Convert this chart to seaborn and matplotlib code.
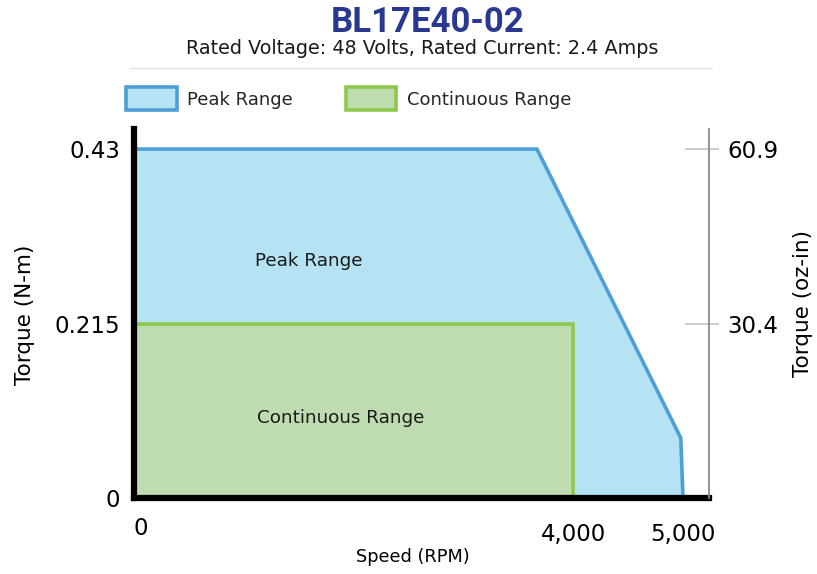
import seaborn as sns
import matplotlib.pyplot as plt
from matplotlib.lines import Line2D
from matplotlib.transforms import ScaledTranslation

# speed (RPM) / torque (N-m) corner points
peak_speed = [0, 0, 3670, 4980, 5000]
peak_torque = [0, 0.43, 0.43, 0.074, 0]
cont_speed = [0, 0, 4000, 4000]
cont_torque = [0, 0.215, 0.215, 0]

speed_ticks = [0, 4000, 5000]
speed_labels = ['0', '4,000', '5,000']
torque_ticks = [0, 0.215, 0.43]
torque_labels = ['0', '0.215', '0.43']
ozin_ticks = [30.4, 60.9]
NM_TO_OZIN = 141.612

sns.set_theme(style='white')
plt.rcParams['font.family'] = ['DejaVu Sans']

fig = plt.figure(figsize=(8.17, 5.74), dpi=100)
ax = fig.add_axes([134 / 817, 76 / 574, 575 / 817, 369 / 574])

peak_fill = '#b5e3f4'
peak_edge = '#4d9fd6'
cont_fill = '#bfdcb1'
cont_edge = '#8dc84c'

ax.fill(peak_speed, peak_torque, facecolor=peak_fill, edgecolor=peak_edge,
        linewidth=2.6, label='Peak Range', zorder=1)
ax.fill(cont_speed, cont_torque, facecolor=cont_fill, edgecolor=cont_edge,
        linewidth=2.6, label='Continuous Range', zorder=1.2)

ax.set_xlim(0, 5237)
ax.set_ylim(0, 0.4547)

ax.text(1590, 0.292, 'Peak Range', ha='center', va='center', fontsize=13.2, color='#1a1a1a')
ax.text(1880, 0.099, 'Continuous Range', ha='center', va='center', fontsize=13.2, color='#1a1a1a')

sns.despine(ax=ax, top=True, right=True)
for side in ['left', 'bottom']:
    ax.spines[side].set_color('black')
    ax.spines[side].set_linewidth(4.5)
    ax.spines[side].set_zorder(3)

ax.set_xticks(speed_ticks)
ax.set_xticklabels(speed_labels)
ax.set_yticks(torque_ticks)
ax.set_yticklabels(torque_labels)
ax.tick_params(axis='x', length=0, pad=18, labelsize=16.5, labelcolor='black')
ax.tick_params(axis='y', length=0, pad=10, labelsize=16.5, labelcolor='black')
zero_lab = ax.get_xticklabels()[0]
zero_lab.set_transform(zero_lab.get_transform() + ScaledTranslation(0.07, 0.06, fig.dpi_scale_trans))

ax.set_xlabel('Speed (RPM)', fontsize=12.8, color='black')
ax.xaxis.set_label_coords((413 - 134) / 575, -0.135)
ax.set_ylabel('Torque (N-m)', fontsize=15.5, color='black')
ax.yaxis.set_label_coords(-0.172, 0.496)

# right axis in oz-in: long tick inside, short stub outside
ax2 = ax.twinx()
ax2.set_ylim(0, 0.4547 * NM_TO_OZIN)
for side in ['left', 'top', 'bottom']:
    ax2.spines[side].set_visible(False)
ax2.spines['right'].set_color('#8a8a8a')
ax2.spines['right'].set_linewidth(1.3)
ax2.set_yticks(ozin_ticks)
ax2.set_yticklabels([f'{v:.1f}' for v in ozin_ticks])
ax2.set_yticks(ozin_ticks, minor=True)
ax2.yaxis.remove_overlapping_locs = False
ax2.tick_params(axis='y', which='major', direction='in', length=17.3, width=1.2,
                color='#c4c4c4', pad=13.5, labelsize=16.5, labelcolor='black')
ax2.tick_params(axis='y', which='minor', direction='out', length=7.2, width=1.2,
                color='#c4c4c4', labelright=False)
ax2.set_ylabel('Torque (oz-in)', fontsize=15.5, color='black')
ax2.yaxis.set_label_coords(1.146, 0.526)
ax2.grid(False)

# title block
fig.text(428 / 817, 1 - 22 / 574, 'BL17E40-02', ha='center', va='center',
         fontsize=25, fontweight='bold', color='#29398f', family=['Roboto', 'DejaVu Sans'])
fig.text(422 / 817, 1 - 48 / 574, 'Rated Voltage: 48 Volts, Rated Current: 2.4 Amps',
         ha='center', va='center', fontsize=13.8, color='#1a1a1a')
fig.add_artist(Line2D([130 / 817, 712 / 817], [1 - 68 / 574, 1 - 68 / 574],
                      transform=fig.transFigure, color='#e2e2e2', linewidth=1))

handles, labels = ax.get_legend_handles_labels()
fig.legend(handles, labels, loc='upper left', bbox_to_anchor=(126 / 817, 1 - 87 / 574),
           ncol=2, frameon=False, fontsize=13, handlelength=2.8, handleheight=1.6,
           handletextpad=0.6, columnspacing=2.9, borderpad=0, borderaxespad=0)

fig.savefig('out.png', dpi=100, facecolor='white')
